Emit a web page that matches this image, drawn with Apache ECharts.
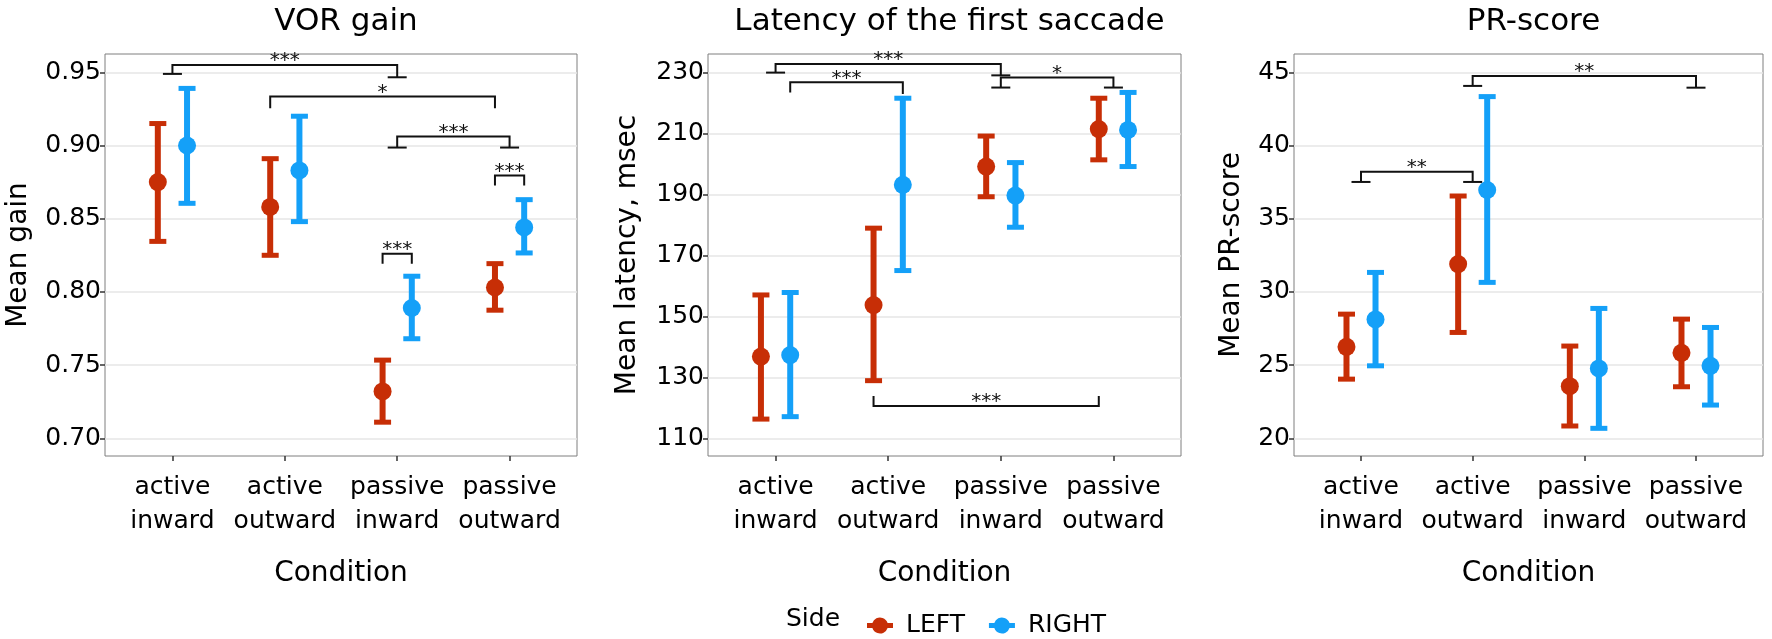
<!DOCTYPE html>
<html>
<head>
<meta charset="utf-8">
<script src="https://cdn.jsdelivr.net/npm/echarts@6/dist/echarts.min.js"></script>
<style>
  html, body { margin: 0; padding: 0; background: #fff; }
  #chart { width: 1772px; height: 639px; }
</style>
</head>
<body>
<div id="chart"></div>
<script>
const categories = ['active\ninward', 'active\noutward', 'passive\ninward', 'passive\noutward'];
const DODGE = 0.13;

// VOR gain
const vorLeftMean = [0.875, 0.858, 0.732, 0.803];
const vorLeftLow = [0.8345, 0.825, 0.711, 0.7875];
const vorLeftHigh = [0.915, 0.891, 0.7534, 0.8193];
const vorRightMean = [0.900, 0.883, 0.789, 0.844];
const vorRightLow = [0.8605, 0.848, 0.768, 0.8266];
const vorRightHigh = [0.939, 0.920, 0.8107, 0.863];

// latency of the first saccade
const latLeftMean = [136.8, 153.7, 199.1, 211.4];
const latLeftLow = [116.3, 128.9, 189.2, 201.3];
const latLeftHigh = [157.0, 178.9, 209.1, 221.5];
const latRightMean = [137.3, 193.1, 189.6, 211.1];
const latRightLow = [117.1, 165.0, 179.2, 199.1];
const latRightHigh = [157.8, 221.5, 200.4, 223.4];

// PR-score
const prLeftMean = [26.25, 31.9, 23.56, 25.84];
const prLeftLow = [24.04, 27.23, 20.84, 23.52];
const prLeftHigh = [28.48, 36.55, 26.3, 28.14];
const prRightMean = [28.12, 36.96, 24.77, 24.95];
const prRightLow = [24.95, 30.65, 20.68, 22.27];
const prRightHigh = [31.33, 43.34, 28.87, 27.57];

// brackets: [xFrom, xTo, yBar, yTipFrom, yTipTo, feet]
const vorBrackets = [
    [1, 3, 0.955, 0.9489, 0.9466, 1],
    [2 - DODGE, 4 - DODGE, 0.9334, 0.9255, 0.9255, 0],
    [3, 4, 0.9061, 0.8986, 0.8986, 1],
    [3 - DODGE, 3 + DODGE, 0.8261, 0.8193, 0.8193, 0],
    [4 - DODGE, 4 + DODGE, 0.8795, 0.8727, 0.8727, 0]
];
const vorStars = ['***', '*', '***', '***', '***'];

const latBrackets = [
    [1, 3, 232.7, 229.9, 229.0, 1],
    [1 + DODGE, 2 + DODGE, 226.7, 223.4, 222.9, 0],
    [3, 4, 228.3, 225.0, 225.0, 1],
    [2 - DODGE, 4 - DODGE, 120.6, 123.9, 123.9, 0]
];
const latStars = ['***', '***', '*', '***'];

const prBrackets = [
    [1, 2, 38.21, 37.51, 37.51, 1],
    [2, 4, 44.75, 44.07, 43.95, 1]
];
const prStars = ['**', '**'];

const vorTicks = [0.70, 0.75, 0.80, 0.85, 0.90, 0.95];
const latTicks = [110, 130, 150, 170, 190, 210, 230];
const prTicks = [20, 25, 30, 35, 40, 45];

const FONT = 'DejaVu Sans';
const RED = '#C72E06';
const BLUE = '#14A0F8';

const panels = [
    { title: 'VOR gain', yName: 'Mean gain', left: 105, width: 472, min: 0.6879, max: 0.9625, ticks: vorTicks, digits: 2, nameGap: 72,
      left_: [vorLeftMean, vorLeftLow, vorLeftHigh], right_: [vorRightMean, vorRightLow, vorRightHigh], brackets: vorBrackets, stars: vorStars },
    { title: 'Latency of the first saccade', yName: 'Mean latency, msec', left: 708, width: 473, min: 104.2, max: 236.0, ticks: latTicks, digits: 0, nameGap: 66,
      left_: [latLeftMean, latLeftLow, latLeftHigh], right_: [latRightMean, latRightLow, latRightHigh], brackets: latBrackets, stars: latStars },
    { title: 'PR-score', yName: 'Mean PR-score', left: 1294, width: 469, min: 18.79, max: 46.25, ticks: prTicks, digits: 0, nameGap: 48,
      left_: [prLeftMean, prLeftLow, prLeftHigh], right_: [prRightMean, prRightLow, prRightHigh], brackets: prBrackets, stars: prStars }
];

function renderErrorBar(params, api) {
    const x = api.value(0);
    const top = api.coord([x, api.value(2)]);
    const bot = api.coord([x, api.value(1)]);
    const color = api.visual('color');
    const half = 8.5;
    return {
        type: 'group',
        children: [
            { type: 'line', shape: { x1: top[0], y1: top[1], x2: bot[0], y2: bot[1] }, style: { stroke: color, lineWidth: 6 } },
            { type: 'line', shape: { x1: top[0] - half, y1: top[1], x2: top[0] + half, y2: top[1] }, style: { stroke: color, lineWidth: 5 } },
            { type: 'line', shape: { x1: bot[0] - half, y1: bot[1], x2: bot[0] + half, y2: bot[1] }, style: { stroke: color, lineWidth: 5 } }
        ]
    };
}

function makeBracketRenderer(stars) {
    return function (params, api) {
        const p1 = api.coord([api.value(0), api.value(2)]);
        const p2 = api.coord([api.value(1), api.value(2)]);
        const t1 = api.coord([api.value(0), api.value(3)]);
        const t2 = api.coord([api.value(1), api.value(4)]);
        const feet = api.value(5);
        const st = { stroke: '#111', lineWidth: 2, fill: null };
        const children = [
            { type: 'polyline', shape: { points: [t1, p1, p2, t2] }, style: st }
        ];
        if (feet) {
            children.push({ type: 'line', shape: { x1: t1[0] - 9.5, y1: t1[1], x2: t1[0] + 9.5, y2: t1[1] }, style: st });
            children.push({ type: 'line', shape: { x1: t2[0] - 9.5, y1: t2[1], x2: t2[0] + 9.5, y2: t2[1] }, style: st });
        }
        children.push({
            type: 'text',
            style: {
                text: stars[params.dataIndex], x: (p1[0] + p2[0]) / 2, y: p1[1] + 6,
                align: 'center', verticalAlign: 'bottom', fontSize: 20, fontFamily: FONT, fill: '#111'
            }
        });
        return { type: 'group', children: children };
    };
}

const grid = [], xAxis = [], yAxis = [], series = [], title = [];

panels.forEach((p, i) => {
    grid.push({ left: p.left, top: 54, width: p.width, height: 402, show: true, borderColor: '#7f7f7f', borderWidth: 1, backgroundColor: '#fff' });
    title.push({
        text: p.title, left: p.left + p.width / 2, top: 1, textAlign: 'center',
        textStyle: { fontFamily: FONT, fontSize: 31, fontWeight: 'normal', color: '#000' }
    });
    xAxis.push({
        type: 'value', gridIndex: i, min: 0.4, max: 4.6,
        name: 'Condition', nameLocation: 'middle', nameGap: 104,
        nameTextStyle: { fontFamily: FONT, fontSize: 28, color: '#000' },
        axisLine: { show: false },
        axisTick: { show: true, length: 5, customValues: [1, 2, 3, 4], lineStyle: { color: '#333', width: 1.5 } },
        axisLabel: {
            customValues: [1, 2, 3, 4], margin: 14, fontFamily: FONT, fontSize: 25, lineHeight: 34, color: '#000',
            formatter: v => categories[Math.round(v) - 1] || ''
        },
        splitLine: { show: false }
    });
    yAxis.push({
        type: 'value', gridIndex: i, min: p.min, max: p.max,
        name: p.yName, nameLocation: 'middle', nameGap: p.nameGap, nameRotate: 90,
        nameTextStyle: { fontFamily: FONT, fontSize: 28, color: '#000' },
        axisLine: { show: false },
        axisTick: { show: true, length: 5, customValues: p.ticks, lineStyle: { color: '#333', width: 1.5 } },
        axisLabel: {
            customValues: p.ticks, margin: 4, fontFamily: FONT, fontSize: 25, color: '#000',
            formatter: v => v.toFixed(p.digits)
        },
        splitLine: { show: true, lineStyle: { color: '#e6e6e6', width: 1.5 } }
    });

    const sides = [
        { name: 'LEFT', vals: p.left_, off: -DODGE, color: RED },
        { name: 'RIGHT', vals: p.right_, off: DODGE, color: BLUE }
    ];
    sides.forEach(s => {
        series.push({
            type: 'custom', name: s.name + ' range', xAxisIndex: i, yAxisIndex: i,
            renderItem: renderErrorBar, itemStyle: { color: s.color },
            encode: { x: 0, y: [1, 2] }, z: 2,
            data: s.vals[0].map((m, k) => [k + 1 + s.off, s.vals[1][k], s.vals[2][k]])
        });
        series.push({
            type: 'scatter', name: s.name, xAxisIndex: i, yAxisIndex: i,
            symbolSize: 18, itemStyle: { color: s.color, opacity: 1 }, z: 3,
            data: s.vals[0].map((m, k) => [k + 1 + s.off, m])
        });
    });
    series.push({
        type: 'custom', name: 'brackets' + i, xAxisIndex: i, yAxisIndex: i,
        renderItem: makeBracketRenderer(p.stars), encode: { x: [0, 1], y: [2, 3, 4] }, z: 4,
        data: p.brackets
    });
});

const chart = echarts.init(document.getElementById('chart'));
chart.setOption({
    animation: false,
    backgroundColor: '#fff',
    title: title,
    grid: grid,
    xAxis: xAxis,
    yAxis: yAxis,
    series: series,
    legend: {
        data: ['LEFT', 'RIGHT'], left: 862, top: 608, selectedMode: false,
        itemWidth: 26, itemHeight: 16, itemGap: 24,
        icon: 'path://M0,5.5 H5.4 A8,8 0 0,1 20.6,5.5 H26 V10.5 H20.6 A8,8 0 0,1 5.4,10.5 H0 Z',
        textStyle: { fontFamily: FONT, fontSize: 25, color: '#000', padding: [0, 0, 0, 8] }
    },
    graphic: [{
        type: 'text', left: 786, top: 607,
        style: { text: 'Side', fontFamily: FONT, fontSize: 25, fill: '#000' }
    }]
});
</script>
</body>
</html>
